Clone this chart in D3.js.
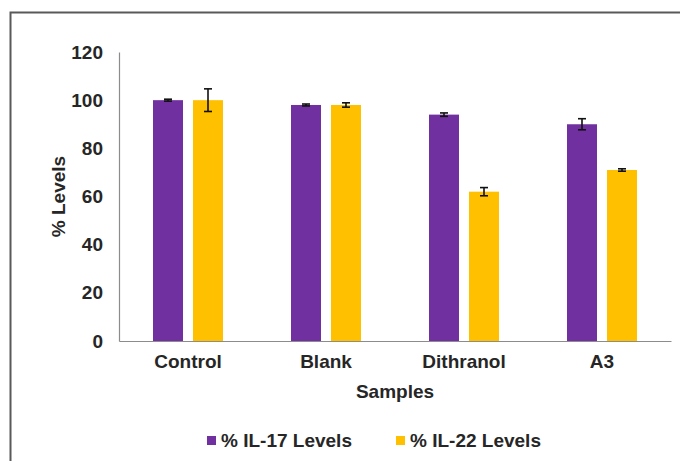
<!DOCTYPE html>
<html>
<head>
<meta charset="utf-8">
<script src="https://cdn.jsdelivr.net/npm/d3@7"></script>
<style>
  body { margin: 0; background: #fff; }
  svg text { font-family: "Liberation Sans", Arial, sans-serif; font-weight: bold; fill: #262626; }
</style>
</head>
<body>
<svg id="chart" width="680" height="461"></svg>
<script>
const samples   = ["Control", "Blank", "Dithranol", "A3"];
const il17      = [100, 98, 94, 90];
const il17Err   = [0.4, 0.4, 0.7, 2.3];
const il22      = [100, 98, 62, 71];
const il22Err   = [4.7, 0.9, 1.7, 0.5];
const yTicks    = [0, 20, 40, 60, 80, 100, 120];
const seriesNames  = ["% IL-17 Levels", "% IL-22 Levels"];
const seriesColors = ["#7030A0", "#FFC000"];

const svg = d3.select("#chart");
const fs = "19px";

/* outer frame (cropped at right and bottom) */
svg.append("path")
    .attr("d", "M10.5,470 L10.5,12.5 L690,12.5")
    .attr("fill", "none")
    .attr("stroke", "#595959")
    .attr("stroke-width", 2);

const mLeft = 119, mRight = 671, mTop = 52, mBottom = 341;

let x0 = d3.scaleBand().domain(samples).range([mLeft, mRight]).paddingInner(0).paddingOuter(0);
let x1 = d3.scaleBand().domain([0, 1]).range([x0.bandwidth() / 2 - 35, x0.bandwidth() / 2 + 35]).paddingInner(0.25);
let y  = d3.scaleLinear().domain([0, 120]).range([mBottom, mTop]);

/* y axis */
let gy = svg.append("g")
    .attr("transform", `translate(${mLeft},0)`)
    .call(d3.axisLeft(y).tickValues(yTicks).tickSize(0).tickPadding(16));
gy.select(".domain").attr("stroke", "#8c8c8c").attr("stroke-width", 1.2);
gy.selectAll("text").style("font-size", fs).attr("fill", "#262626");

/* x axis */
let gx = svg.append("g")
    .attr("transform", `translate(0,${mBottom})`)
    .call(d3.axisBottom(x0).tickSize(0).tickPadding(14));
gx.select(".domain").attr("stroke", "#8c8c8c").attr("stroke-width", 1.2);
gx.selectAll("text").style("font-size", fs).attr("fill", "#262626");

/* bars */
const series = [
    { vals: il17, errs: il17Err },
    { vals: il22, errs: il22Err }
];
series.forEach((s, si) => {
    let g = svg.append("g");
    g.selectAll("rect")
        .data(samples)
        .enter()
        .append("rect")
        .attr("x", d => x0(d) + x1(si))
        .attr("width", x1.bandwidth())
        .attr("y", (d, i) => y(s.vals[i]))
        .attr("height", (d, i) => y(0) - y(s.vals[i]))
        .attr("fill", seriesColors[si]);

    /* error bars */
    let eg = g.selectAll(".err")
        .data(samples)
        .enter()
        .append("g")
        .attr("class", "err")
        .attr("stroke", "#111")
        .attr("stroke-width", 1.6);
    let cx = d => x0(d) + x1(si) + x1.bandwidth() / 2;
    eg.append("line")
        .attr("x1", cx).attr("x2", cx)
        .attr("y1", (d, i) => y(s.vals[i] + s.errs[i]))
        .attr("y2", (d, i) => y(s.vals[i] - s.errs[i]));
    [1, -1].forEach(sign => {
        eg.append("line")
            .attr("x1", d => cx(d) - 4).attr("x2", d => cx(d) + 4)
            .attr("y1", (d, i) => y(s.vals[i] + sign * s.errs[i]))
            .attr("y2", (d, i) => y(s.vals[i] + sign * s.errs[i]));
    });
});

/* axis titles */
svg.append("text")
    .attr("x", (mLeft + mRight) / 2)
    .attr("y", 398)
    .attr("text-anchor", "middle")
    .style("font-size", fs)
    .text("Samples");

svg.append("text")
    .attr("transform", `translate(65,${(mTop + mBottom) / 2}) rotate(-90)`)
    .attr("text-anchor", "middle")
    .style("font-size", fs)
    .text("% Levels");

/* legend */
const legendX = [207, 396];
let lg = svg.selectAll(".legend")
    .data(seriesNames)
    .enter()
    .append("g")
    .attr("class", "legend")
    .attr("transform", (d, i) => `translate(${legendX[i]},447)`);
lg.append("rect")
    .attr("x", 0).attr("y", -11)
    .attr("width", 9).attr("height", 9)
    .attr("fill", (d, i) => seriesColors[i]);
lg.append("text")
    .attr("x", 14)
    .attr("y", 0)
    .style("font-size", fs)
    .text(d => d);
</script>
</body>
</html>
